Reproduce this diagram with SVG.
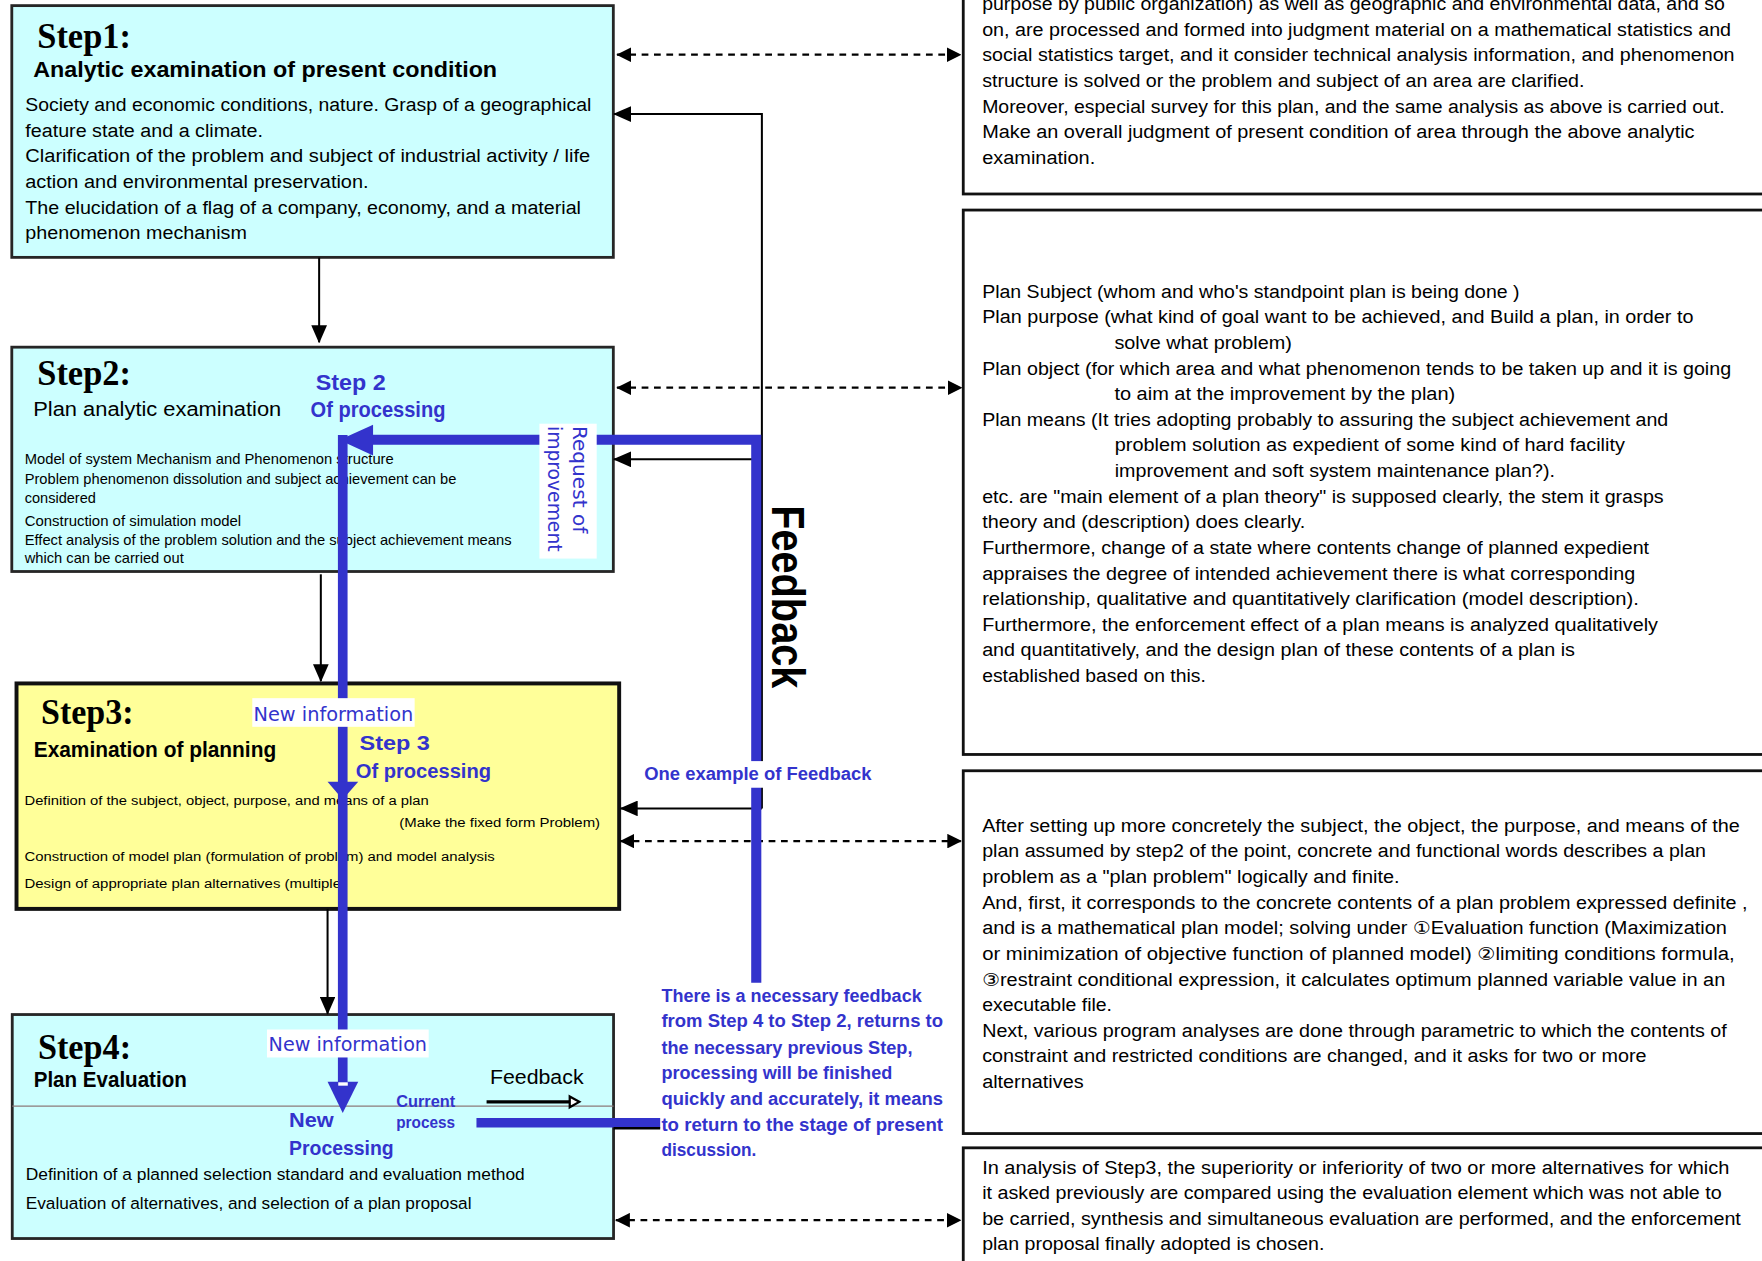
<svg xmlns="http://www.w3.org/2000/svg" width="1762" height="1261" viewBox="0 0 1762 1261">
<style>
text{font-family:"Liberation Sans",Arial,"DejaVu Sans","Noto Sans CJK JP",sans-serif;fill:#000}
.box1{fill:#ccffff;stroke:#262626;stroke-width:2.5}
.box3{fill:#ffff99;stroke:#111;stroke-width:3.5}
.rbox{fill:#fff;stroke:#111;stroke-width:2.5}
.t{font-size:16px}
.s{font-size:13px}
.s3{font-size:11.8px}
.s4{font-size:14.5px}
.step{font-family:"Liberation Serif","Times New Roman",serif;font-size:31px;font-weight:bold}
.ttl{font-size:19px;font-weight:bold}
.b{fill:#3333cc}
.bb{fill:#3333cc;font-weight:bold}
.vd{font-family:"DejaVu Sans",Verdana,sans-serif;fill:#3333cc;font-size:17px}
.bl{stroke:#3333cc;fill:none}
.ln{stroke:#000;stroke-width:1.8;fill:none}
.dash{stroke:#000;stroke-width:2;stroke-dasharray:6 5;fill:none}
.wbg{fill:#fff}
</style>
<defs>
<marker id="ah" markerUnits="userSpaceOnUse" markerWidth="16" markerHeight="14" refX="15" refY="7" orient="auto-start-reverse" viewBox="0 0 16 14"><path d="M0,0 L16,7 L0,14 z" fill="#000"/></marker>
<marker id="dh" markerUnits="userSpaceOnUse" markerWidth="13" markerHeight="13" refX="12.5" refY="6.5" orient="auto-start-reverse" viewBox="0 0 13 13"><path d="M0,0 L13,6.5 L0,13 z" fill="#000"/></marker>
</defs>
<rect width="1762" height="1261" fill="#fff"/>
<g transform="scale(1.12372,1.12389)">

<g id="box-a">
<rect class="rbox" x="857.2" y="-20" width="760" height="192.6"/>
<text class="t" x="874" y="9" textLength="661" lengthAdjust="spacingAndGlyphs">purpose by public organization) as well as geographic and environmental data, and so</text>
<text class="t" x="874" y="31.8" textLength="666.5" lengthAdjust="spacingAndGlyphs">on, are processed and formed into judgment material on a mathematical statistics and</text>
<text class="t" x="874" y="54.6" textLength="669.6" lengthAdjust="spacingAndGlyphs">social statistics target, and it consider technical analysis information, and phenomenon</text>
<text class="t" x="874" y="77.4" textLength="536" lengthAdjust="spacingAndGlyphs">structure is solved or the problem and subject of an area are clarified.</text>
<text class="t" x="874" y="100.2" textLength="660.7" lengthAdjust="spacingAndGlyphs">Moreover, especial survey for this plan, and the same analysis as above is carried out.</text>
<text class="t" x="874" y="123" textLength="634" lengthAdjust="spacingAndGlyphs">Make an overall judgment of present condition of area through the above analytic</text>
<text class="t" x="874" y="145.8" textLength="100.6" lengthAdjust="spacingAndGlyphs">examination.</text>
</g>

<g id="box-b">
<rect class="rbox" x="857.2" y="186.9" width="760" height="484.4"/>
<text class="t" x="874" y="264.9" textLength="478.3" lengthAdjust="spacingAndGlyphs">Plan Subject (whom and who's standpoint plan is being done )</text>
<text class="t" x="874" y="287.7" textLength="633" lengthAdjust="spacingAndGlyphs">Plan purpose (what kind of goal want to be achieved, and  Build a plan, in order to</text>
<text class="t" x="991.7" y="310.5" textLength="158" lengthAdjust="spacingAndGlyphs">solve what problem)</text>
<text class="t" x="874" y="333.3" textLength="666.5" lengthAdjust="spacingAndGlyphs">Plan object (for which area and what phenomenon tends to be taken up and it is going</text>
<text class="t" x="991.7" y="356.1" textLength="303.3" lengthAdjust="spacingAndGlyphs">to aim at the improvement by the plan)</text>
<text class="t" x="874" y="378.9" textLength="610.6" lengthAdjust="spacingAndGlyphs">Plan means (It tries adopting probably to assuring the subject achievement and</text>
<text class="t" x="992" y="401.7" textLength="454" lengthAdjust="spacingAndGlyphs">problem solution as expedient of some kind of hard facility</text>
<text class="t" x="992" y="424.5" textLength="391.7" lengthAdjust="spacingAndGlyphs">improvement and soft system maintenance plan?).</text>
<text class="t" x="874" y="447.3" textLength="606.5" lengthAdjust="spacingAndGlyphs">etc. are "main element of a plan theory" is supposed clearly, the stem it grasps</text>
<text class="t" x="874" y="470.1" textLength="287.6" lengthAdjust="spacingAndGlyphs">theory and (description) does clearly.</text>
<text class="t" x="874" y="492.9" textLength="593.5" lengthAdjust="spacingAndGlyphs">Furthermore, change of a state where contents change of planned expedient</text>
<text class="t" x="874" y="515.7" textLength="581.1" lengthAdjust="spacingAndGlyphs">appraises the degree of intended achievement there is what corresponding</text>
<text class="t" x="874" y="538.5" textLength="584.4" lengthAdjust="spacingAndGlyphs">relationship, qualitative and quantitatively clarification (model description).</text>
<text class="t" x="874" y="561.3" textLength="601.4" lengthAdjust="spacingAndGlyphs">Furthermore, the enforcement effect of a plan means is analyzed qualitatively</text>
<text class="t" x="874" y="584.1" textLength="527.6" lengthAdjust="spacingAndGlyphs">and quantitatively, and the design plan of these contents of a plan is</text>
<text class="t" x="874" y="606.9" textLength="199" lengthAdjust="spacingAndGlyphs">established based on this.</text>
</g>

<g id="box-c">
<rect class="rbox" x="857.2" y="685.8" width="760" height="322.8"/>
<text class="t" x="874" y="740.1" textLength="674.2" lengthAdjust="spacingAndGlyphs">After setting up more concretely the subject, the object, the purpose, and means of the</text>
<text class="t" x="874" y="762.9" textLength="644.2" lengthAdjust="spacingAndGlyphs">plan assumed by step2 of the point, concrete and functional words describes a plan</text>
<text class="t" x="874" y="785.7" textLength="371.4" lengthAdjust="spacingAndGlyphs">problem as a "plan problem" logically and finite.</text>
<text class="t" x="874" y="808.5" textLength="681.1" lengthAdjust="spacingAndGlyphs">And, first, it corresponds to the concrete contents of a plan problem expressed definite ,</text>
<text class="t" x="874" y="831.3" textLength="662.7" lengthAdjust="spacingAndGlyphs">and is a mathematical plan model; solving under ①Evaluation function (Maximization</text>
<text class="t" x="874" y="854.1" textLength="669.6" lengthAdjust="spacingAndGlyphs">or minimization of objective function of planned model) ②limiting conditions formula,</text>
<text class="t" x="874" y="876.9" textLength="661.3" lengthAdjust="spacingAndGlyphs">③restraint conditional expression, it calculates optimum planned variable value in an</text>
<text class="t" x="874" y="899.7" textLength="115.6" lengthAdjust="spacingAndGlyphs">executable file.</text>
<text class="t" x="874" y="922.5" textLength="662.7" lengthAdjust="spacingAndGlyphs">Next, various program analyses are done through parametric to which the contents of</text>
<text class="t" x="874" y="945.3" textLength="591.2" lengthAdjust="spacingAndGlyphs">constraint and restricted conditions are changed, and it asks for two or more</text>
<text class="t" x="874" y="968.1" textLength="90.3" lengthAdjust="spacingAndGlyphs">alternatives</text>
</g>

<g id="box-d">
<rect class="rbox" x="857.2" y="1021.3" width="760" height="200"/>
<text class="t" x="874" y="1044.2" textLength="665" lengthAdjust="spacingAndGlyphs">In analysis of Step3, the superiority or inferiority of two or more alternatives for which</text>
<text class="t" x="874" y="1067" textLength="658.1" lengthAdjust="spacingAndGlyphs">it asked previously are compared using the evaluation element which was not able to</text>
<text class="t" x="874" y="1089.8" textLength="675.2" lengthAdjust="spacingAndGlyphs">be carried, synthesis and simultaneous evaluation are performed, and the enforcement</text>
<text class="t" x="874" y="1112.6" textLength="304.6" lengthAdjust="spacingAndGlyphs">plan proposal finally adopted is chosen.</text>
</g>

<g id="step1">
<rect class="box1" x="10.5" y="5" width="535.3" height="224"/>
<text class="step" x="33.2" y="42.6" textLength="83.3" lengthAdjust="spacingAndGlyphs">Step1:</text>
<text class="ttl" x="29.6" y="68.1" textLength="412.8" lengthAdjust="spacingAndGlyphs">Analytic examination of present condition</text>
<text class="t" x="22.5" y="98.8" textLength="503.7" lengthAdjust="spacingAndGlyphs">Society and economic conditions, nature. Grasp of a geographical</text>
<text class="t" x="22.5" y="121.6" textLength="211.5" lengthAdjust="spacingAndGlyphs">feature state and a climate.</text>
<text class="t" x="22.5" y="144.1" textLength="502.7" lengthAdjust="spacingAndGlyphs">Clarification of the problem and subject of industrial activity / life</text>
<text class="t" x="22.5" y="166.9" textLength="305.5" lengthAdjust="spacingAndGlyphs">action and environmental preservation.</text>
<text class="t" x="22.5" y="190" textLength="494.5" lengthAdjust="spacingAndGlyphs">The elucidation of a flag of a company, economy, and a material</text>
<text class="t" x="22.5" y="212.5" textLength="197.2" lengthAdjust="spacingAndGlyphs">phenomenon mechanism</text>
</g>

<g id="step2">
<rect class="box1" x="10.5" y="308.9" width="535.3" height="199.6"/>
<text class="step" x="33.2" y="342.3" textLength="83.3" lengthAdjust="spacingAndGlyphs">Step2:</text>
<text x="29.6" y="370.5" font-size="18.5" textLength="220.7" lengthAdjust="spacingAndGlyphs">Plan analytic examination</text>
<text class="bb" x="281" y="346.7" font-size="19" textLength="62.3" lengthAdjust="spacingAndGlyphs">Step 2</text>
<text class="bb" x="276.4" y="371.2" font-size="19" textLength="120" lengthAdjust="spacingAndGlyphs">Of processing</text>
<text class="s" x="22" y="413.1" textLength="328.4" lengthAdjust="spacingAndGlyphs">Model of system Mechanism and Phenomenon structure</text>
<text class="s" x="22" y="430.5" textLength="384.1" lengthAdjust="spacingAndGlyphs">Problem phenomenon dissolution and subject achievement can be</text>
<text class="s" x="22" y="447.8" textLength="63.3" lengthAdjust="spacingAndGlyphs">considered</text>
<text class="s" x="22" y="467.6" textLength="192.6" lengthAdjust="spacingAndGlyphs">Construction of simulation model</text>
<text class="s" x="22" y="484.6" textLength="433.2" lengthAdjust="spacingAndGlyphs">Effect analysis of the problem solution and the subject achievement means</text>
<text class="s" x="22" y="501.3" textLength="141.5" lengthAdjust="spacingAndGlyphs">which can be carried out</text>
</g>

<g id="step3">
<rect class="box3" x="14.7" y="608.1" width="536.3" height="200.6"/>
<text class="step" x="36.5" y="644.3" textLength="82.3" lengthAdjust="spacingAndGlyphs">Step3:</text>
<text class="ttl" x="30" y="673.4" font-size="17.5" textLength="215.8" lengthAdjust="spacingAndGlyphs">Examination of planning</text>
<text class="bb" x="319.9" y="667.4" font-size="18.5" textLength="62.7" lengthAdjust="spacingAndGlyphs">Step 3</text>
<text class="bb" x="316.6" y="692.6" font-size="18.5" textLength="120.4" lengthAdjust="spacingAndGlyphs">Of processing</text>
<text class="s3" x="21.8" y="716.4" textLength="359.7" lengthAdjust="spacingAndGlyphs">Definition of the subject, object, purpose, and means of a plan</text>
<text class="s3" x="355.3" y="735.7" textLength="178.7" lengthAdjust="spacingAndGlyphs">(Make the fixed form Problem)</text>
<text class="s3" x="21.8" y="765.9" textLength="418.5" lengthAdjust="spacingAndGlyphs">Construction of model plan (formulation of problem) and model analysis</text>
<text class="s3" x="21.8" y="790.5" textLength="286.1" lengthAdjust="spacingAndGlyphs">Design of appropriate plan alternatives (multiple)</text>
</g>

<g id="step4">
<rect class="box1" x="10.9" y="902.7" width="535.1" height="199.3"/>
<line x1="10.9" y1="984.2" x2="546" y2="984.2" stroke="#8c7b7b" stroke-width="1"/>
<text class="step" x="33.8" y="942.7" textLength="82.8" lengthAdjust="spacingAndGlyphs">Step4:</text>
<text class="ttl" x="30" y="967" font-size="17" textLength="136.2" lengthAdjust="spacingAndGlyphs">Plan Evaluation</text>
<text x="436" y="964.1" font-size="18.5" textLength="83.3" lengthAdjust="spacingAndGlyphs">Feedback</text>
<text class="bb" x="352.6" y="984.8" font-size="14" textLength="52.4" lengthAdjust="spacingAndGlyphs">Current</text>
<text class="bb" x="352.6" y="1004.1" font-size="14" textLength="52.4" lengthAdjust="spacingAndGlyphs">process</text>
<text class="bb" x="257.2" y="1002.6" font-size="18" textLength="39.8" lengthAdjust="spacingAndGlyphs">New</text>
<text class="bb" x="257.2" y="1027.9" font-size="18" textLength="93.2" lengthAdjust="spacingAndGlyphs">Processing</text>
<text class="s4" x="22.9" y="1050.1" textLength="444.1" lengthAdjust="spacingAndGlyphs">Definition of a planned selection standard and evaluation method</text>
<text class="s4" x="22.9" y="1075.6" textLength="396.7" lengthAdjust="spacingAndGlyphs">Evaluation of alternatives, and selection of a plan proposal</text>
</g>

<g id="connectors">
<line class="ln" x1="284" y1="229.2" x2="284" y2="304.5" marker-end="url(#ah)"/>
<line class="ln" x1="285.5" y1="511" x2="285.5" y2="606" marker-end="url(#ah)"/>
<line class="ln" x1="291.5" y1="808.7" x2="291.5" y2="902" marker-end="url(#ah)"/>
<path class="ln" d="M678,719.3 L678,101.5 L546.5,101.5" marker-end="url(#ah)"/>
<line class="ln" x1="678" y1="408.7" x2="546.5" y2="408.7" marker-end="url(#ah)"/>
<line class="ln" x1="678" y1="719.3" x2="552.5" y2="719.3" marker-end="url(#ah)"/>
<line class="dash" x1="549" y1="48.7" x2="855" y2="48.7" marker-start="url(#dh)" marker-end="url(#dh)"/>
<line class="dash" x1="549" y1="345" x2="856" y2="345" marker-start="url(#dh)" marker-end="url(#dh)"/>
<line class="dash" x1="552" y1="748.4" x2="855.5" y2="748.4" marker-start="url(#dh)" marker-end="url(#dh)"/>
<line class="dash" x1="548" y1="1085.7" x2="855" y2="1085.7" marker-start="url(#dh)" marker-end="url(#dh)"/>
<path class="bl" stroke-width="9" d="M673,874.5 L673,391.3 L330,391.3"/>
<polygon fill="#3333cc" points="302,391.5 332,378 332,405.3"/>
<path class="bl" stroke-width="8.6" d="M305,387 L305,965"/>
<polygon fill="#3333cc" points="291.5,695.6 318.8,695.6 305,711.3"/>
<polygon fill="#3333cc" points="291.5,962.6 318.8,962.6 305,990.2"/>
<rect fill="#fff" x="301" y="963" width="8.5" height="3"/>
<line class="bl" stroke-width="8.6" x1="424" y1="999" x2="587.5" y2="999"/>
<line stroke="#000" stroke-width="2.2" x1="546" y1="1003.8" x2="587.5" y2="1003.8"/>
<line stroke="#000" stroke-width="3" x1="433" y1="980.4" x2="509" y2="980.4"/>
<polygon fill="#fff" stroke="#000" stroke-width="2" points="507,975.6 515.5,980.4 507,985.2"/>
</g>

<g id="labels">
<rect class="wbg" x="480" y="377" width="51" height="120"/>
<text class="vd" transform="translate(509.5,379) rotate(90)" textLength="95.5" lengthAdjust="spacingAndGlyphs">Request of</text>
<text class="vd" transform="translate(488,379) rotate(90)" textLength="111.8" lengthAdjust="spacingAndGlyphs">improvement</text>
<text transform="translate(687,449.5) rotate(90)" font-size="41" font-weight="bold" textLength="163" lengthAdjust="spacingAndGlyphs">Feedback</text>
<rect class="wbg" x="224.5" y="621.2" width="144.5" height="25.5"/>
<text class="vd" x="225.6" y="641.3" textLength="142.2" lengthAdjust="spacingAndGlyphs">New information</text>
<rect class="wbg" x="237.6" y="916" width="143.9" height="24.9"/>
<text class="vd" x="239" y="935.3" textLength="141" lengthAdjust="spacingAndGlyphs">New information</text>
<rect class="wbg" x="570" y="677.2" width="208" height="23.7"/>
<text class="bb" x="573.3" y="694.1" font-size="16" textLength="202.2" lengthAdjust="spacingAndGlyphs">One example of Feedback</text>
<text class="bb" x="588.6" y="891.4" font-size="16" textLength="231.6" lengthAdjust="spacingAndGlyphs">There is a necessary feedback</text>
<text class="bb" x="588.6" y="914.2" font-size="16" textLength="250.6" lengthAdjust="spacingAndGlyphs">from Step 4 to Step 2, returns to</text>
<text class="bb" x="588.6" y="937.4" font-size="16" textLength="223.4" lengthAdjust="spacingAndGlyphs">the necessary previous Step,</text>
<text class="bb" x="588.6" y="960.2" font-size="16" textLength="205.4" lengthAdjust="spacingAndGlyphs">processing will be finished</text>
<text class="bb" x="588.6" y="982.8" font-size="16" textLength="250.6" lengthAdjust="spacingAndGlyphs">quickly and accurately, it means</text>
<text class="bb" x="588.6" y="1006.2" font-size="16" textLength="250.6" lengthAdjust="spacingAndGlyphs">to return to the stage of present</text>
<text class="bb" x="588.6" y="1028.5" font-size="16" textLength="84.4" lengthAdjust="spacingAndGlyphs">discussion.</text>
</g>
</g>
</svg>
